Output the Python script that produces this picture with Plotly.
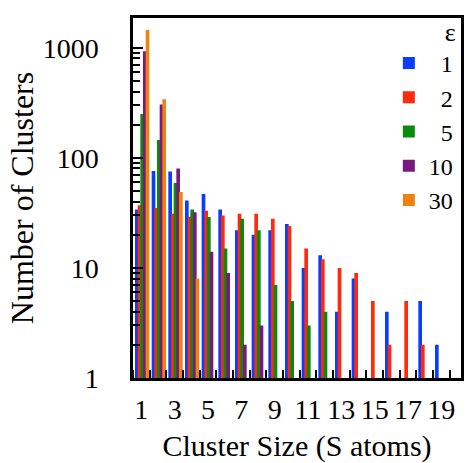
import plotly.graph_objects as go

cluster_sizes = list(range(1, 20))
eps_labels = ["1", "2", "5", "10", "30"]
eps_1 = [34, 76, 75, 41, 47, 34, 22, 20, 22, 25, 10, 13, 4, 8, None, 4, None, 5, 2]
eps_2 = [37, 35, 31, 29, 33, 30, 31, 31, 28, 24, 15, 12, 10, 9, 5, 2, 5, 2, None]
eps_5 = [250, 145, 59, 34, 29, 15, 28, 22, 7, 5, 3, 4, None, None, None, None, None, None, None]
eps_10 = [930, 305, 80, 32, 14, 9, 2, 3, None, None, None, None, None, None, None, None, None, None, None]
eps_30 = [1450, 340, 49, 8, None, None, None, None, None, None, None, None, None, None, None, None, None, None, None]
series = [eps_1, eps_2, eps_5, eps_10, eps_30]
colors = ["#0a3dff", "#ff2a0c", "#0a8a0a", "#7b1880", "#f0820f"]

x_tick_values = [1, 3, 5, 7, 9, 11, 13, 15, 17, 19]
y_tick_values = [1, 10, 100, 1000]
y_tick_labels = ["1", "10", "100", "1000"]

# minor tick marks: category boundaries on x, 2..9 per decade on y
x_minor_ticks = [k + 0.5 for k in range(0, 20)]
y_minor_ticks = [m * d for d in (1, 10, 100, 1000) for m in range(2, 10)]

FONT = "Liberation Serif"

fig = go.Figure()
for i, (name, vals, col) in enumerate(zip(eps_labels, series, colors)):
    disp = name if len(name) == 2 else "\u2007" + name
    fig.add_trace(go.Bar(
        x=cluster_sizes, y=vals, name=disp,
        marker=dict(color=col, line=dict(width=0)),
        width=0.22, offset=-0.38 + i * 0.16,
    ))

fig.update_layout(
    width=468, height=463,
    margin=dict(l=133, r=7, t=12, b=85),
    barmode="overlay",
    plot_bgcolor="white", paper_bgcolor="white",
    font=dict(family=FONT, color="black", size=28),
    showlegend=True,
    legend=dict(
        x=0.78, xanchor="left", y=1.03, yanchor="top",
        bgcolor="rgba(0,0,0,0)",
        font=dict(family=FONT, size=24, color="black"),
        title=dict(text="ε", side="top right", font=dict(family=FONT, size=26)),
        itemclick=False,
    ),
)

fig.update_xaxes(
    range=[0.5, 20.18], automargin=False,
    tickmode="array", tickvals=x_tick_values,
    ticks="", ticklabelstandoff=5,
    tickfont=dict(family=FONT, size=28),
    minor=dict(ticks="inside", ticklen=8, tickwidth=2, tickcolor="black",
               tickmode="array", tickvals=x_minor_ticks),
    showline=True, linecolor="black", linewidth=2.5, mirror=True,
    showgrid=False, zeroline=False,
    title=dict(text="Cluster Size (S atoms)", font=dict(family=FONT, size=30), standoff=31),
)

fig.update_yaxes(
    type="log", range=[0.0, 3.27], automargin=False,
    tickmode="array", tickvals=y_tick_values, ticktext=y_tick_labels,
    ticks="inside", ticklen=10, tickwidth=2, tickcolor="black",
    ticklabelstandoff=26,
    tickfont=dict(family=FONT, size=28),
    minor=dict(ticks="inside", ticklen=7, tickwidth=2, tickcolor="black",
               tickmode="array", tickvals=y_minor_ticks),
    showline=True, linecolor="black", linewidth=2.5, mirror=True,
    showgrid=False, zeroline=False,
    title=dict(text="Number of Clusters", font=dict(family=FONT, size=32), standoff=0),
)

fig.write_html("out.html")
